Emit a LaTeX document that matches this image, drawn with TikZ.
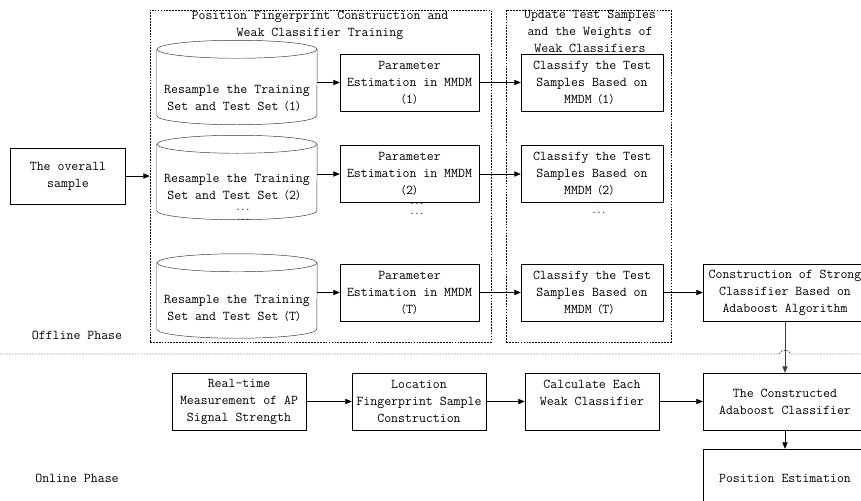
\documentclass[tikz,border=0pt]{standalone}
\usepackage{fontspec}
\newfontfamily\cjk{Noto Sans CJK SC}
\usetikzlibrary{arrows.meta}
\newcommand{\idx}[1]{{\cjk\fontsize{9}{14.5}\selectfont （}#1{\cjk\fontsize{9}{14.5}\selectfont ）}}
% outline of a data tank round a (plain) node
\newcommand{\drawtank}[1]{%
  \draw[tankline] ([yshift=-0.27cm]#1.north) ellipse [x radius=2.4cm, y radius=0.27cm];
  \draw[tankline] ([yshift=-0.27cm]#1.north west) -- ([yshift=0.27cm]#1.south west)
     arc[start angle=180, end angle=360, x radius=2.4cm, y radius=0.27cm] -- ([yshift=-0.27cm]#1.north east);}
\tikzset{
  box/.style={draw=black, rectangle, align=center, inner sep=1pt, minimum height=1.71cm},
  tank/.style={rectangle, minimum width=4.8cm, minimum height=2.52cm, inner sep=0pt},
  tankline/.style={draw=black!80},
  frame/.style={draw=black, dash pattern=on 1.5pt off 1pt, rectangle, minimum height=9.96cm},
  arr/.style={-{Triangle[length=5.5pt,width=4.5pt]}, thin},
  txt/.style={align=center, inner sep=0pt},
  dots/.style={inner sep=0pt, font=\ttfamily\fontsize{8}{8}\selectfont},
}
\begin{document}
\begin{tikzpicture}[x=0.03cm, y=-0.03cm, font=\ttfamily\fontsize{11.5}{14.5}\selectfont]
   \useasboundingbox (0,0) rectangle (861,501);

   % offline phase
   \node[box, minimum width=3.45cm, minimum height=1.68cm] (overall) at (68,176) {The overall\\sample};
   \node[frame, minimum width=10.23cm] (fpbox) at (320.5,176) {};
   \node[frame, minimum width=4.95cm] (upbox) at (588.5,176) {};
   \node[txt] (fptitle) at (320,25) {Position Fingerprint Construction and\\Weak Classifier Training};
   \node[txt] (uptitle) at (590,31.5) {Update Test Samples\\and the Weights of\\Weak Classifiers};
   %
   \node[tank] (c1) at (237,82.5) {};
   \node[tank] (c2) at (237,177.5) {};
   \node[tank] (c3) at (237,296) {};
   \drawtank{c1}
   \drawtank{c2}
   \drawtank{c3}
   \node[txt] (t1) at (237,98.5) {Resample the Training\\Set and Test Set\idx{1}};
   \node[txt] (t2) at (237,187.5) {Resample the Training\\Set and Test Set\idx{2}};
   \node[txt] (t3) at (237,308) {Resample the Training\\Set and Test Set\idx{T}};
   %
   \node[box, minimum width=4.17cm] (p1) at (409.5,82.5) {Parameter\\Estimation in MMDM\\\idx{1}};
   \node[box, minimum width=4.17cm] (p2) at (409.5,174) {Parameter\\Estimation in MMDM\\\idx{2}};
   \node[box, minimum width=4.17cm] (p3) at (409.5,292.5) {Parameter\\Estimation in MMDM\\\idx{T}};
   %
   \node[box, minimum width=4.26cm] (k1) at (592,82.5) {Classify the Test\\Samples Based on\\MMDM\idx{1}};
   \node[box, minimum width=4.26cm] (k2) at (592,174) {Classify the Test\\Samples Based on\\MMDM\idx{2}};
   \node[box, minimum width=4.26cm] (k3) at (592,292.5) {Classify the Test\\Samples Based on\\MMDM\idx{T}};
   %
   \node[box, minimum width=4.92cm] (strong) at (785,292.5) {Construction of Strong\\Classifier Based on\\Adaboost Algorithm};
   %
   \node[dots] (d1) at (243,210) {...};
   \node[dots] (d2) at (243,220) {...};
   \node[dots] (d3) at (417,204) {...};
   \node[dots] (d4) at (417,214) {...};
   \node[dots] (d5) at (599,203) {...};
   \node[dots] (d6) at (599,213) {...};
   %
   \node (offline) at (77,335) {Offline Phase};
   \node (online) at (77,478) {Online Phase};

   % online phase
   \node[box, minimum width=4.02cm] (rt) at (239,401.5) {Real-time\\Measurement of AP\\Signal Strength};
   \node[box, minimum width=4.02cm] (loc) at (419,401.5) {Location\\Fingerprint Sample\\Construction};
   \node[box, minimum width=4.02cm] (calc) at (592,401.5) {Calculate Each\\Weak Classifier\\\mbox{}};
   \node[box, minimum width=4.92cm] (ada) at (785,401.5) {The Constructed\\Adaboost Classifier};
   \node[box, minimum width=4.92cm, minimum height=1.74cm] (pos) at (785,478) {Position Estimation};

   % phase separator, hopping over the vertical connector
   \draw[dash pattern=on 1.5pt off 1pt] (0,354) -- (779,354) .. controls (781,349) and (789,349) .. (791,354) -- (861,354);

   % connectors
   \draw[arr] (overall) -- (fpbox);
   \draw[arr] (p1.west -| c1.east) -- (p1);
   \draw[arr] (p2.west -| c2.east) -- (p2);
   \draw[arr] (p3.west -| c3.east) -- (p3);
   \draw[arr] (p1) -- (k1);
   \draw[arr] (p2) -- (k2);
   \draw[arr] (p3) -- (k3);
   \draw[arr] (k3) -- (strong);
   \draw[arr, draw=black!75] (strong) -- (ada);
   \draw[arr] (rt) -- (loc);
   \draw[arr] (loc) -- (calc);
   \draw[arr] (calc) -- (ada);
   \draw[arr] (ada) -- (pos);
\end{tikzpicture}
\end{document}
